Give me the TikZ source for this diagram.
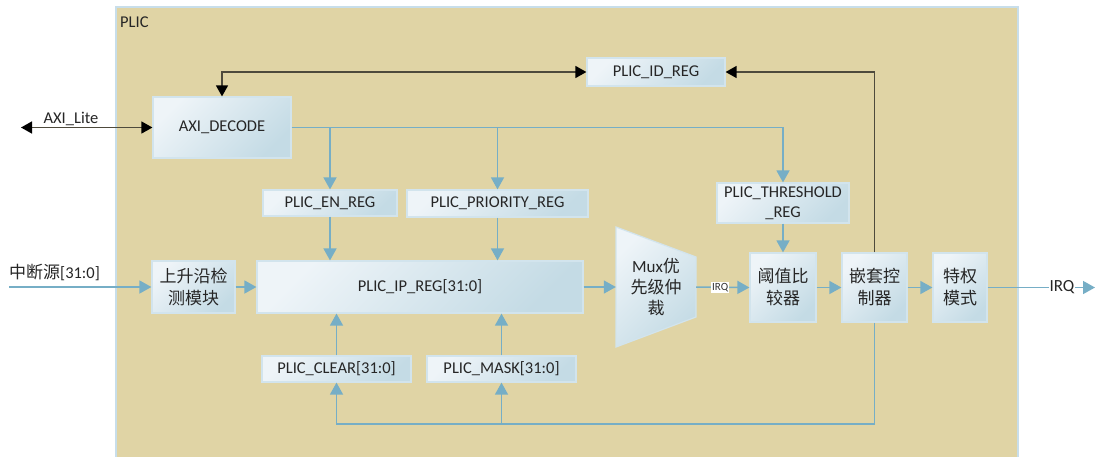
\documentclass[tikz,border=0pt]{standalone}
\usepackage{fontspec}
\setmainfont{Carlito}
\newfontfamily\cjk{Noto Sans CJK SC}
\usetikzlibrary{arrows.meta}
\definecolor{bgtan}{RGB}{224,212,165}
\definecolor{plicb}{RGB}{200,222,234}
\definecolor{boxL}{RGB}{238,244,248}
\definecolor{boxR}{RGB}{196,219,229}
\definecolor{boxB}{RGB}{210,228,237}
\definecolor{lnb}{RGB}{118,174,198}
\definecolor{lnk}{RGB}{78,74,60}
\begin{document}
\begin{tikzpicture}[x=1pt,y=-1pt,
  bx/.style={draw=boxB, line width=1.2pt, left color=boxL, right color=boxR, shading angle=45,
    inner sep=0pt, align=center, text=black!85, font=\fontsize{16.5}{20}\selectfont},
  cbx/.style={bx, font=\cjk\fontsize{17}{22}\selectfont},
  bl/.style={draw=lnb, line width=1.5pt, -{Triangle[width=13pt,length=12pt]}},
  blp/.style={draw=lnb, line width=1.5pt},
  blk/.style={draw=lnk, line width=1.4pt, {Triangle[width=12pt,length=11pt,color=black]}-{Triangle[width=12pt,length=11pt,color=black]}},
  blkr/.style={draw=lnk, line width=1.4pt, -{Triangle[width=12pt,length=11pt,color=black]}},
  lab/.style={inner sep=0pt, text=black!85, font=\fontsize{16.5}{20}\selectfont}]
\useasboundingbox (0,0) rectangle (1099,456);
\fill[white] (0,0) rectangle (1099,456);
% PLIC container
\path[fill=bgtan, draw=plicb, line width=1.5pt] (116,7) rectangle (1018,460);
\node[lab, anchor=base west] (plic) at (120,27) {PLIC};

% boxes
\node[bx, minimum width=138pt, minimum height=61pt] (axi) at (222,127.5) {AXI\_DECODE};
\node[bx, minimum width=138pt, minimum height=28pt] (idreg) at (656,72) {PLIC\_ID\_REG};
\node[bx, minimum width=134pt, minimum height=26pt] (enreg) at (330,203) {PLIC\_EN\_REG};
\node[bx, minimum width=181pt, minimum height=27pt] (prio) at (497.5,203.5) {PLIC\_PRIORITY\_REG};
\node[bx, minimum width=132pt, minimum height=40pt] (thr) at (783,203) {PLIC\_THRESHOLD\\\_REG};
\node[bx, minimum width=326pt, minimum height=52pt] (ip) at (420,287) {PLIC\_IP\_REG[31:0]};
\node[cbx, minimum width=83pt, minimum height=52pt] (edge) at (193.5,287) {上升沿检\\测模块};
\node[bx, minimum width=149pt, minimum height=26pt] (clear) at (336.5,369) {PLIC\_CLEAR[31:0]};
\node[bx, minimum width=149pt, minimum height=26pt] (mask) at (501.5,369) {PLIC\_MASK[31:0]};
\node[cbx, minimum width=66pt, minimum height=69pt] (cmp) at (783,287.5) {阈值比\\较器};
\node[cbx, minimum width=65pt, minimum height=69pt] (nest) at (874.5,287.5) {嵌套控\\制器};
\node[cbx, minimum width=54pt, minimum height=69pt] (priv) at (960,287.5) {特权\\模式};

% mux trapezoid
\shade[draw=boxB, line width=1.2pt, left color=boxL, right color=boxR, shading angle=45]
  (616,227) -- (696,257) -- (696,317) -- (616,347) -- cycle;
\node[inner sep=0pt, minimum width=80pt, minimum height=120pt, align=center, text=black!85,
  font=\fontsize{17}{21}\selectfont] (mux) at (656,287) {Mux{\cjk 优}\\{\cjk 先级仲}\\{\cjk 裁}};

% black connectors
\coordinate (axil) at (21,127.5);
\draw[blk] (axil) -- (axi.west);
\node[lab, anchor=base] (axilab) at (71,123) {AXI\_Lite};
\draw[blk] (axi.north) |- (idreg.west);
\draw[blkr] (nest.north) |- (idreg.east);

% blue connectors from AXI_DECODE
\draw[bl] (axi.east) -| (thr.north);
\coordinate (b1) at (axi.east -| enreg.north);
\coordinate (b2) at (axi.east -| prio.north);
\draw[bl] (b1) -- (enreg.north);
\draw[bl] (b2) -- (prio.north);
\draw[bl] (enreg.south) -- (enreg.south |- ip.north);
\draw[bl] (prio.south) -- (prio.south |- ip.north);
\draw[bl] (clear.north) -- (clear.north |- ip.south);
\draw[bl] (mask.north) -- (mask.north |- ip.south);

% input
\coordinate (src) at (9,287);
\draw[bl] (src) -- (edge.west);
\node[anchor=base west, inner sep=0pt, text=black!85, font=\fontsize{16.5}{20}\selectfont] (srclab) at (9,278) {{\cjk\fontsize{17}{20}\selectfont 中断源}[31:0]};
\draw[bl] (edge.east) -- (ip.west);
\draw[bl] (ip.east) -- (mux.west);
\draw[bl] (mux.east) -- node[pos=0.45, fill=white, inner sep=1pt, text=black!80, font=\fontsize{11}{12}\selectfont] (irq1) {IRQ} (cmp.west);
\draw[bl] (thr.south) -- (cmp.north);
\draw[bl] (cmp.east) -- (nest.west);
\draw[bl] (nest.east) -- (priv.west);

% feedback bottom
\coordinate (bot) at (874.5,424);
\draw[bl] (nest.south) -- (nest.south |- bot) -| (clear.south);
\draw[bl] (mask.south |- bot) -- (mask.south);

% output
\node[inner sep=0.5pt, text=black!85, font=\fontsize{17}{20}\selectfont] (irq2) at (1062,287.5) {IRQ};
\coordinate (out) at (1095,287.5);
\draw[blp] (priv.east) -- (irq2.west);
\draw[draw=lnb, line width=1.5pt, -{Triangle[width=13pt,length=12pt]}] (irq2.east) -- (out);
\end{tikzpicture}
\end{document}
